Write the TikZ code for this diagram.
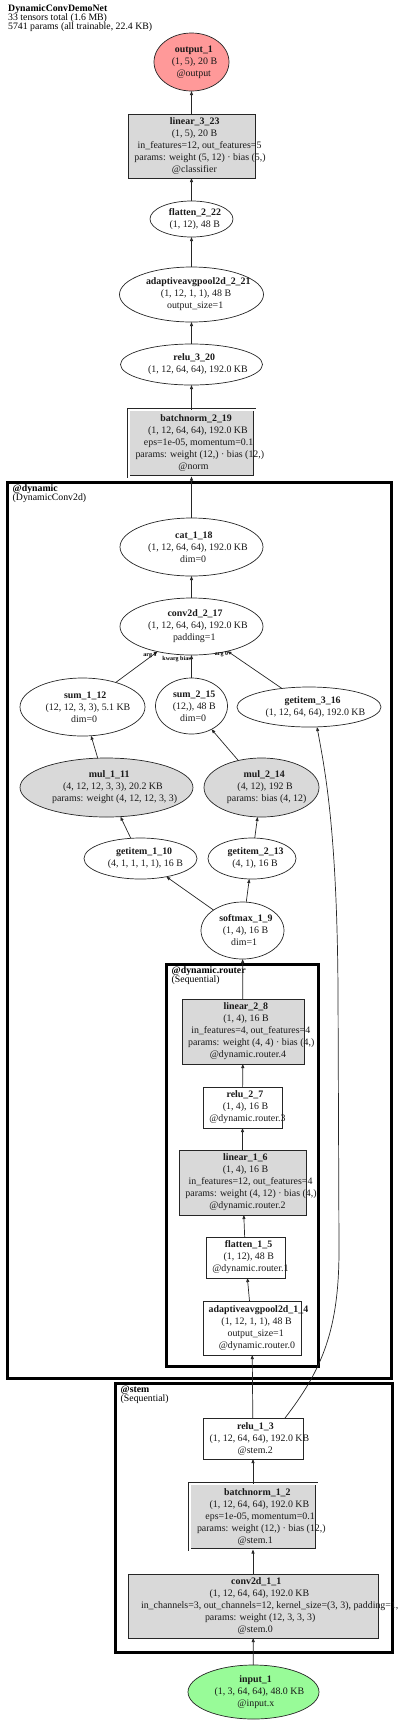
\documentclass[tikz,border=0pt]{standalone}
\usepackage{fontspec}
\setmainfont{Liberation Serif}
\usetikzlibrary{shapes.geometric,arrows.meta}
\definecolor{gfill}{RGB}{217,217,217}
\definecolor{outred}{RGB}{255,153,153}
\definecolor{ingreen}{RGB}{152,251,152}
\newcommand\nfont{\fontsize{9.9}{12}\selectfont\lineskiplimit=-5pt}
\newcommand\tfont{\fontsize{9.8}{9}\selectfont\lineskiplimit=-5pt}
\newcommand\efont{\fontsize{6}{6}\selectfont\bfseries}
\newsavebox\lnbox
\newcommand\Ln[1]{\sbox\lnbox{#1}\makebox[0.87\wd\lnbox][l]{#1}}
\newcommand\Lb[1]{\Ln{\textbf{#1}}}
\tikzset{
  nd/.style={draw=black!85, line width=0.7pt, inner sep=0pt, outer sep=0pt},
  el/.style={nd, ellipse},
  bx/.style={nd, rectangle},
  dbl/.style={nd, rectangle, double=white, double distance=2pt, fill=gfill},
  txt/.style={align=center, font=\nfont, inner sep=0pt, text=black!90},
  edge/.style={draw=black!85, line width=0.7pt, -{Triangle[length=4pt,width=3pt]}},
  elab/.style={font=\efont, inner sep=0pt},
  cluster/.style={draw=black, line width=3pt},
  clab/.style={anchor=north west, align=left, font=\tfont, inner sep=0pt}
}
\begin{document}
\begin{tikzpicture}[x=1pt,y=-1pt]
\useasboundingbox (0,0) rectangle (400,1722);
% title
\node[clab] (title) at (8,4.5) {\textbf{DynamicConvDemoNet}\\33 tensors total (1.6 MB)\\5741 params (all trainable, 22.4 KB)};
% clusters
\draw[cluster] (7,482) rectangle (391.5,1378);
\draw[cluster] (166,964) rectangle (318,1366);
\draw[cluster] (115,1383) rectangle (392,1652);
\node[clab] (lab_dynamic) at (12.5,484.5) {\textbf{@dynamic}\\(DynamicConv2d)};
\node[clab] (lab_router) at (171.5,966.5) {\textbf{@dynamic.router}\\(Sequential)};
\node[clab] (lab_stem) at (120.5,1385.5) {\textbf{@stem}\\(Sequential)};
% nodes
\node[el, fill=outred, minimum width=75pt, minimum height=58pt, label={[txt]center:{\Lb{output\_1}\\\Ln{(1, 5), 20 B}\\\Ln{@output}}}] (output_1) at (191.5,62) {};
\node[bx, fill=gfill, minimum width=127pt, minimum height=64pt, label={[txt]center:{\Lb{linear\_3\_23}\\\Ln{(1, 5), 20 B}\\\Ln{in\_features=12, out\_features=5}\\\Ln{params: weight (5, 12) · bias (5,)}\\\Ln{@classifier}}}] (linear_3_23) at (191.5,146) {};
\node[el, minimum width=83pt, minimum height=36pt, label={[txt]center:{\Lb{flatten\_2\_22}\\\Ln{(1, 12), 48 B}}}] (flatten_2_22) at (191.5,219) {};
\node[el, minimum width=144pt, minimum height=55pt, label={[txt]center:{\Lb{adaptiveavgpool2d\_2\_21}\\\Ln{(1, 12, 1, 1), 48 B}\\\Ln{output\_size=1}}}] (adaptiveavgpool2d_2_21) at (191.5,294.5) {};
\node[el, minimum width=142pt, minimum height=41pt, label={[txt]center:{\Lb{relu\_3\_20}\\\Ln{(1, 12, 64, 64), 192.0 KB}}}] (relu_3_20) at (191.5,364.5) {};
\node[dbl, minimum width=126pt, minimum height=67pt, label={[txt]center:{\Lb{batchnorm\_2\_19}\\\Ln{(1, 12, 64, 64), 192.0 KB}\\\Ln{eps=1e-05, momentum=0.1}\\\Ln{params: weight (12,) · bias (12,)}\\\Ln{@norm}}}] (batchnorm_2_19) at (191.5,443) {};
\node[el, minimum width=143pt, minimum height=58pt, label={[txt]center:{\Lb{cat\_1\_18}\\\Ln{(1, 12, 64, 64), 192.0 KB}\\\Ln{dim=0}}}] (cat_1_18) at (191.5,547) {};
\node[el, minimum width=143pt, minimum height=57pt, label={[txt]center:{\Lb{conv2d\_2\_17}\\\Ln{(1, 12, 64, 64), 192.0 KB}\\\Ln{padding=1}}}] (conv2d_2_17) at (191.5,626.5) {};
\node[el, minimum width=125pt, minimum height=58pt, label={[txt]center:{\Lb{sum\_1\_12}\\\Ln{(12, 12, 3, 3), 5.1 KB}\\\Ln{dim=0}}}] (sum_1_12) at (82.5,707) {};
\node[el, minimum width=72pt, minimum height=56pt, label={[txt]center:{\Lb{sum\_2\_15}\\\Ln{(12,), 48 B}\\\Ln{dim=0}}}] (sum_2_15) at (191.5,706) {};
\node[el, minimum width=144pt, minimum height=40pt, label={[txt]center:{\Lb{getitem\_3\_16}\\\Ln{(1, 12, 64, 64), 192.0 KB}}}] (getitem_3_16) at (309,707) {};
\node[el, fill=gfill, minimum width=173pt, minimum height=59pt, label={[txt]center:{\Lb{mul\_1\_11}\\\Ln{(4, 12, 12, 3, 3), 20.2 KB}\\\Ln{params: weight (4, 12, 12, 3, 3)}}}] (mul_1_11) at (106.5,787.5) {};
\node[el, fill=gfill, minimum width=115pt, minimum height=59pt, label={[txt]center:{\Lb{mul\_2\_14}\\\Ln{(4, 12), 192 B}\\\Ln{params: bias (4, 12)}}}] (mul_2_14) at (261.5,787.5) {};
\node[el, minimum width=113pt, minimum height=41pt, label={[txt]center:{\Lb{getitem\_1\_10}\\\Ln{(4, 1, 1, 1, 1), 16 B}}}] (getitem_1_10) at (140.5,858.5) {};
\node[el, minimum width=88pt, minimum height=41pt, label={[txt]center:{\Lb{getitem\_2\_13}\\\Ln{(4, 1), 16 B}}}] (getitem_2_13) at (252,858.5) {};
\node[el, minimum width=83pt, minimum height=57pt, label={[txt]center:{\Lb{softmax\_1\_9}\\\Ln{(1, 4), 16 B}\\\Ln{dim=1}}}] (softmax_1_9) at (242.5,930.5) {};
\node[bx, fill=gfill, minimum width=122pt, minimum height=65pt, label={[txt]center:{\Lb{linear\_2\_8}\\\Ln{(1, 4), 16 B}\\\Ln{in\_features=4, out\_features=4}\\\Ln{params: weight (4, 4) · bias (4,)}\\\Ln{@dynamic.router.4}}}] (linear_2_8) at (243,1031.5) {};
\node[bx, minimum width=79pt, minimum height=41pt, label={[txt]center:{\Lb{relu\_2\_7}\\\Ln{(1, 4), 16 B}\\\Ln{@dynamic.router.3}}}] (relu_2_7) at (242.5,1107.5) {};
\node[bx, fill=gfill, minimum width=127pt, minimum height=65pt, label={[txt]center:{\Lb{linear\_1\_6}\\\Ln{(1, 4), 16 B}\\\Ln{in\_features=12, out\_features=4}\\\Ln{params: weight (4, 12) · bias (4,)}\\\Ln{@dynamic.router.2}}}] (linear_1_6) at (242.5,1182.5) {};
\node[bx, minimum width=79pt, minimum height=41pt, label={[txt]center:{\Lb{flatten\_1\_5}\\\Ln{(1, 12), 48 B}\\\Ln{@dynamic.router.1}}}] (flatten_1_5) at (245.5,1257.5) {};
\node[bx, minimum width=98pt, minimum height=54pt, label={[txt]center:{\Lb{adaptiveavgpool2d\_1\_4}\\\Ln{(1, 12, 1, 1), 48 B}\\\Ln{output\_size=1}\\\Ln{@dynamic.router.0}}}] (adaptiveavgpool2d_1_4) at (252,1328) {};
\node[bx, minimum width=100pt, minimum height=41pt, label={[txt]center:{\Lb{relu\_1\_3}\\\Ln{(1, 12, 64, 64), 192.0 KB}\\\Ln{@stem.2}}}] (relu_1_3) at (253,1438.5) {};
\node[dbl, minimum width=127pt, minimum height=66pt, label={[txt]center:{\Lb{batchnorm\_1\_2}\\\Ln{(1, 12, 64, 64), 192.0 KB}\\\Ln{eps=1e-05, momentum=0.1}\\\Ln{params: weight (12,) · bias (12,)}\\\Ln{@stem.1}}}] (batchnorm_1_2) at (253,1516.5) {};
\node[bx, fill=gfill, minimum width=250pt, minimum height=64pt, label={[txt]center:{\Lb{conv2d\_1\_1}\\\Ln{(1, 12, 64, 64), 192.0 KB}\\\Ln{in\_channels=3, out\_channels=12, kernel\_size=(3, 3), padding=1,}\\\Ln{params: weight (12, 3, 3, 3)}\\\Ln{@stem.0}}}] (conv2d_1_1) at (253,1606) {};
\node[el, fill=ingreen, minimum width=131pt, minimum height=54pt, label={[txt]center:{\Lb{input\_1}\\\Ln{(1, 3, 64, 64), 48.0 KB}\\\Ln{@input.x}}}] (input_1) at (253.5,1692) {};
% edges
\draw[edge] (linear_3_23) -- (output_1);
\draw[edge] (flatten_2_22) -- (linear_3_23);
\draw[edge] (adaptiveavgpool2d_2_21) -- (flatten_2_22);
\draw[edge] (relu_3_20) -- (adaptiveavgpool2d_2_21);
\draw[edge] (batchnorm_2_19) -- (relu_3_20);
\draw[edge] (cat_1_18) -- (batchnorm_2_19);
\draw[edge] (conv2d_2_17) -- (cat_1_18);
\draw[edge] (sum_1_12) -- node[elab, pos=1, xshift=-7.5pt, yshift=-3.5pt] (lab_arg1) {arg 1} (conv2d_2_17);
\draw[edge] (sum_2_15) -- node[elab, pos=1, xshift=-15pt, yshift=-4pt] (lab_kwbias) {kwarg bias} (conv2d_2_17);
\draw[edge] (getitem_3_16) -- node[elab, pos=1, xshift=-6pt, yshift=-3.5pt] (lab_arg0) {arg 0} (conv2d_2_17);
\draw[edge] (mul_1_11) -- (sum_1_12);
\draw[edge] (mul_2_14) -- (sum_2_15);
\draw[edge] (getitem_1_10) -- (mul_1_11);
\draw[edge] (getitem_2_13) -- (mul_2_14);
\draw[edge] (softmax_1_9) -- (getitem_1_10);
\draw[edge] (softmax_1_9) -- (getitem_2_13);
\draw[edge] (linear_2_8) -- (softmax_1_9);
\draw[edge] (relu_2_7) -- (linear_2_8);
\draw[edge] (linear_1_6) -- (relu_2_7);
\draw[edge] (flatten_1_5) -- (linear_1_6);
\draw[edge] (adaptiveavgpool2d_1_4) -- (flatten_1_5);
\draw[edge] (relu_1_3) -- (adaptiveavgpool2d_1_4);
\coordinate (curveA) at (339,1250);
\coordinate (curveB) at (338,990);
\draw[edge] ([xshift=32pt]relu_1_3.north) .. controls (322,1370) and (339,1330) .. (curveA) -- (curveB) .. controls (337,830) and (325,770) .. ([xshift=8pt]getitem_3_16.south);
\draw[edge] (batchnorm_1_2) -- (relu_1_3);
\draw[edge] (conv2d_1_1) -- (batchnorm_1_2);
\draw[edge] (input_1) -- (conv2d_1_1);
\end{tikzpicture}
\end{document}
